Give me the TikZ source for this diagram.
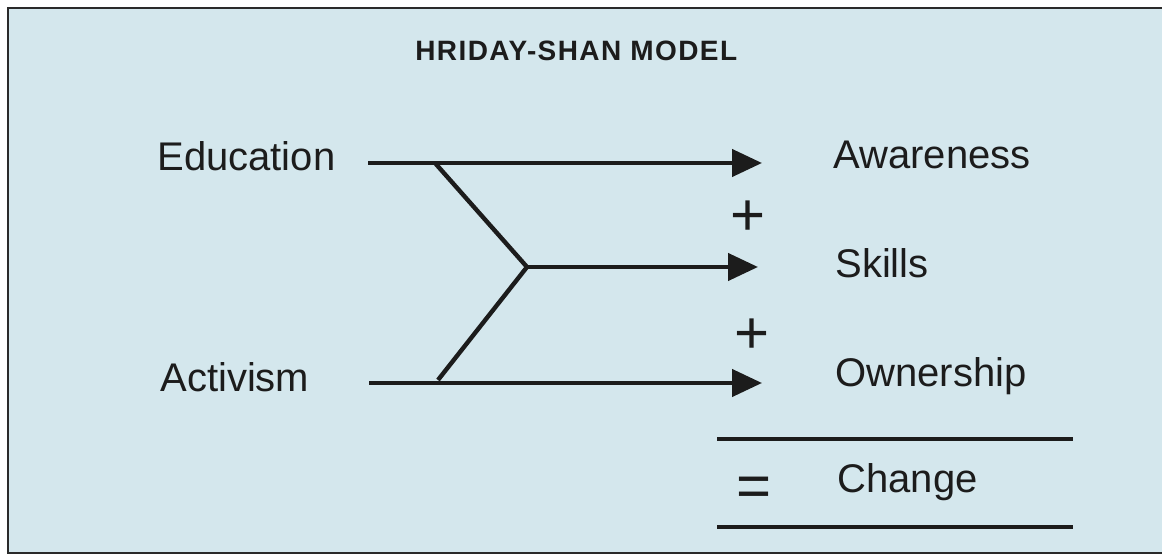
\documentclass[tikz,border=0pt]{standalone}
\usepackage{fontspec}
\setmainfont{Liberation Sans}
\usetikzlibrary{arrows.meta}
\definecolor{fondo}{HTML}{D4E7ED}
\definecolor{tinta}{HTML}{1C1C1C}
\definecolor{marco}{HTML}{2A2A2A}

\begin{document}
\begin{tikzpicture}[x=0.5pt, y=-0.5pt,
  every node/.style={text=tinta, inner sep=0pt, font=\fontsize{20}{22}\selectfont},
  signo/.style={font=\fontsize{30}{32}\selectfont},
  flecha/.style={tinta, line width=2.2pt, -{Triangle[length=15pt, width=13.5pt]}},
  raya/.style={tinta, line width=2pt}]
\useasboundingbox (0,0) rectangle (1162,555);

% ================= fondo y marco =================
\begin{scope}
\clip (0,0) rectangle (1162,555);
\fill[white] (0,0) rectangle (1162,555);
\draw[marco, line width=1.1pt, fill=fondo] (8,8) rectangle (1175,553);
\end{scope}

% titulo
\node[anchor=base west, font=\bfseries\fontsize{14}{16}\selectfont\addfontfeatures{LetterSpace=5}] (titulo) at (415,61) {HRIDAY-SHAN MODEL};

% ================= entradas =================
\node[anchor=base west] (edu) at (157,171) {Education};
\node[anchor=base west] (act) at (160,392) {Activism};

% ================= resultados =================
\node[anchor=base west] (awa) at (833,169) {Awareness};
\node[anchor=base west] (ski) at (835,278) {Skills};
\node[anchor=base west] (own) at (835,387) {Ownership};
\node[anchor=base west] (cha) at (837,493) {Change};
\node[signo] (mas1) at (748,218) {+};
\node[signo] (mas2) at (752,336) {+};
\node[signo] (igual) at (754,492) {=};

% puntos de las flechas
\coordinate (edu0) at (368,163);
\coordinate (edu1) at (762,163);
\coordinate (act0) at (369,383);
\coordinate (act1) at (762,383);
\coordinate (junta) at (527,267);
\coordinate (ski1) at (758,267);
\coordinate (rama1) at (435,163);
\coordinate (rama2) at (438,380);

% ================= flechas =================
\draw[flecha] (edu0) -- (edu1);
\draw[flecha] (act0) -- (act1);
\draw[flecha] (junta) -- (ski1);
\draw[raya, line width=2.2pt] (rama1) -- (junta) -- (rama2);

% rayas de la suma
\coordinate (suma0) at (717,439);
\coordinate (suma1) at (1073,439);
\coordinate (total0) at (717,527);
\coordinate (total1) at (1073,527);
\draw[raya] (suma0) -- (suma1);
\draw[raya] (total0) -- (total1);
\end{tikzpicture}
\end{document}
